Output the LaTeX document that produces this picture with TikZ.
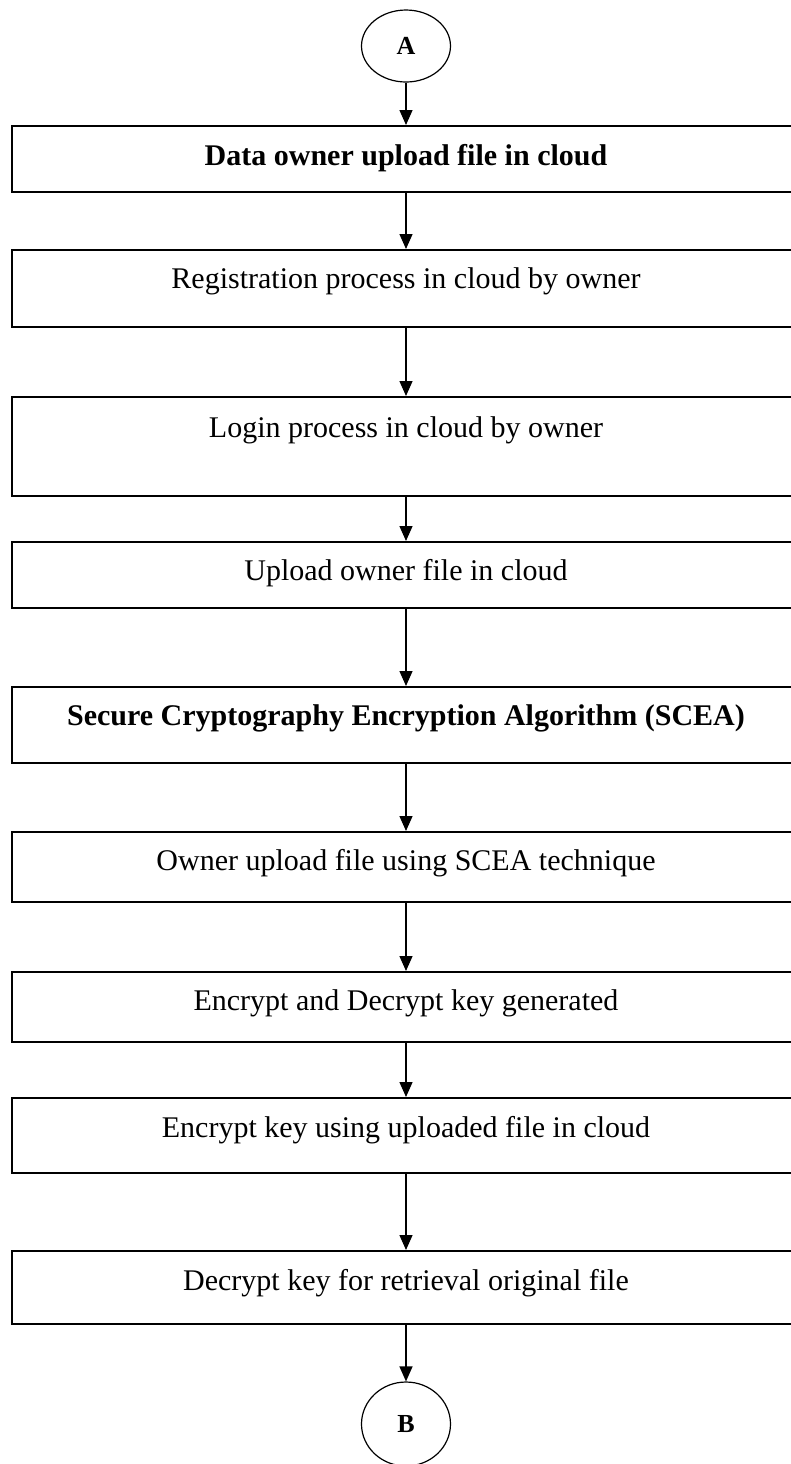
\documentclass[tikz,border=0pt]{standalone}
\usepackage{fontspec}
\setmainfont{Liberation Serif}
\usetikzlibrary{arrows.meta,shapes.geometric}
\begin{document}
\begin{tikzpicture}[x=0.5pt,y=-0.5pt,
  stepbox/.style={draw,line width=1pt,rectangle,minimum width=394pt,inner sep=0pt},
  lbl/.style={anchor=base,font=\fontsize{15}{18}\selectfont,inner sep=0pt},
  blbl/.style={lbl,font=\fontsize{15}{18}\selectfont\bfseries},
  conn/.style={ellipse,draw,line width=0.6pt,minimum width=44.5pt,inner sep=0pt,font=\fontsize{13}{15}\selectfont\bfseries},
  arr/.style={-{Triangle[width=6.5pt,length=7.5pt]},line width=0.65pt}]
\useasboundingbox (0,0) rectangle (791,1464);
\clip (0,0) rectangle (791,1464);
% connectors (circles)
\node[conn,minimum height=36pt] (A) at (406,46) {A};
\node[conn,minimum height=42pt] (B) at (406,1424) {B};
% boxes
\node[stepbox,minimum height=33pt]   (b1) at (406,159) {};
\node[stepbox,minimum height=38.5pt] (b2) at (406,288.5) {};
\node[stepbox,minimum height=49.5pt] (b3) at (406,446.5) {};
\node[stepbox,minimum height=33pt]   (b4) at (406,575) {};
\node[stepbox,minimum height=38pt]   (b5) at (406,725) {};
\node[stepbox,minimum height=35pt]   (b6) at (406,867) {};
\node[stepbox,minimum height=35pt]   (b7) at (406,1007) {};
\node[stepbox,minimum height=37.5pt] (b8) at (406,1135.5) {};
\node[stepbox,minimum height=36.5pt] (b9) at (406,1287.5) {};
% texts
\node[blbl] (t1) at (406,165) {Data owner upload file in cloud};
\node[lbl]  (t2) at (406,288) {Registration process in cloud by owner};
\node[lbl]  (t3) at (406,437) {Login process in cloud by owner};
\node[lbl]  (t4) at (406,580) {Upload owner file in cloud};
\node[blbl] (t5) at (406,725) {Secure Cryptography Encryption Algorithm (SCEA)};
\node[lbl]  (t6) at (406,870) {Owner upload file using SCEA technique};
\node[lbl]  (t7) at (406,1010) {Encrypt and Decrypt key generated};
\node[lbl]  (t8) at (406,1137) {Encrypt key using uploaded file in cloud};
\node[lbl]  (t9) at (406,1290) {Decrypt key for retrieval original file};
% arrows
\draw[arr] (A) -- (b1);
\draw[arr] (b1) -- (b2);
\draw[arr] (b2) -- (b3);
\draw[arr] (b3) -- (b4);
\draw[arr] (b4) -- (b5);
\draw[arr] (b5) -- (b6);
\draw[arr] (b6) -- (b7);
\draw[arr] (b7) -- (b8);
\draw[arr] (b8) -- (b9);
\draw[arr] (b9) -- (B);
\end{tikzpicture}
\end{document}
